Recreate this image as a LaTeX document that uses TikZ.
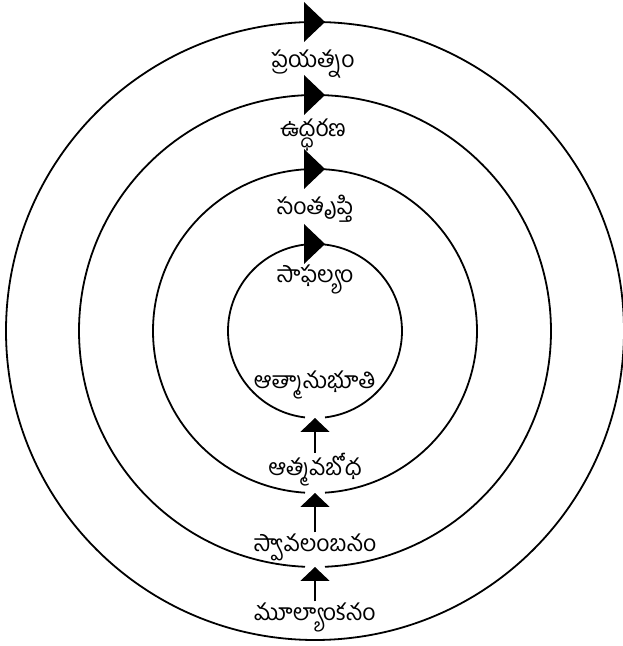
\documentclass[tikz,border=0pt]{standalone}
\usepackage{fontspec}
\newfontfamily\telugu[Script=Telugu]{Hind Guntur}
\usetikzlibrary{arrows.meta}

\begin{document}
\begin{tikzpicture}[
  x=1pt, y=1pt,
  every node/.style={inner sep=1pt, outer sep=0pt},
  ring/.style={draw=black, line width=1.8pt},
  lbl/.style={font=\telugu\fontsize{23}{26}\selectfont},
  up/.style={draw=black, line width=2pt, -{Triangle[length=14pt,width=29pt]}},
]
\useasboundingbox (0,0) rectangle (622,646);

% centre of all rings, and half the width of the gap under each arrow tip
\def\CX{315}\def\CY{315}\def\G{10}
\coordinate (c) at (\CX,\CY);

% ---------- rings, opened at the bottom where an arrow comes in ----------
\foreach \n/\r/\gap in {a/87/1, b/162/1, d/236/1, e/309/0}{
  \pgfmathsetmacro\d{\gap*asin(\G/\r)}
  \draw[ring] (c) ++({-90+\d}:\r) arc[start angle={-90+\d}, end angle={270-\d}, radius=\r];
  \coordinate (bot-\n) at (\CX,\CY-\r);
  % arrowhead sitting on top of the ring
  \fill[black] (\CX-11,\CY+\r+20) -- (\CX+10,\CY+\r) -- (\CX-11,\CY+\r-20) -- cycle;
}

% ---------- labels ----------
\node[lbl] (prayatnam)  at (313,582) {ప్రయత్నం};
\node[lbl] (uddharana)  at (313,511) {ఉద్ధరణ};
\node[lbl] (santrupti)  at (315,437) {సంతృప్తి};
\node[lbl] (saphalyam)  at (315,367) {సాఫల్యం};
\node[lbl] (atmanubhuti) at (315,261) {ఆత్మానుభూతి};
\node[lbl] (atmavabodha) at (315,176) {ఆత్మవబోధ};
\node[lbl] (svavalambanam) at (315,99) {స్వావలంబనం};
\node[lbl] (mulyankanam) at (315,29) {మూల్యాంకనం};

% ---------- arrows up into the next ring ----------
\draw[up] (atmavabodha.north)   -- (bot-a);
\draw[up] (svavalambanam.north) -- (bot-b);
\draw[up] (mulyankanam.north)   -- (bot-d);

\end{tikzpicture}
\end{document}
